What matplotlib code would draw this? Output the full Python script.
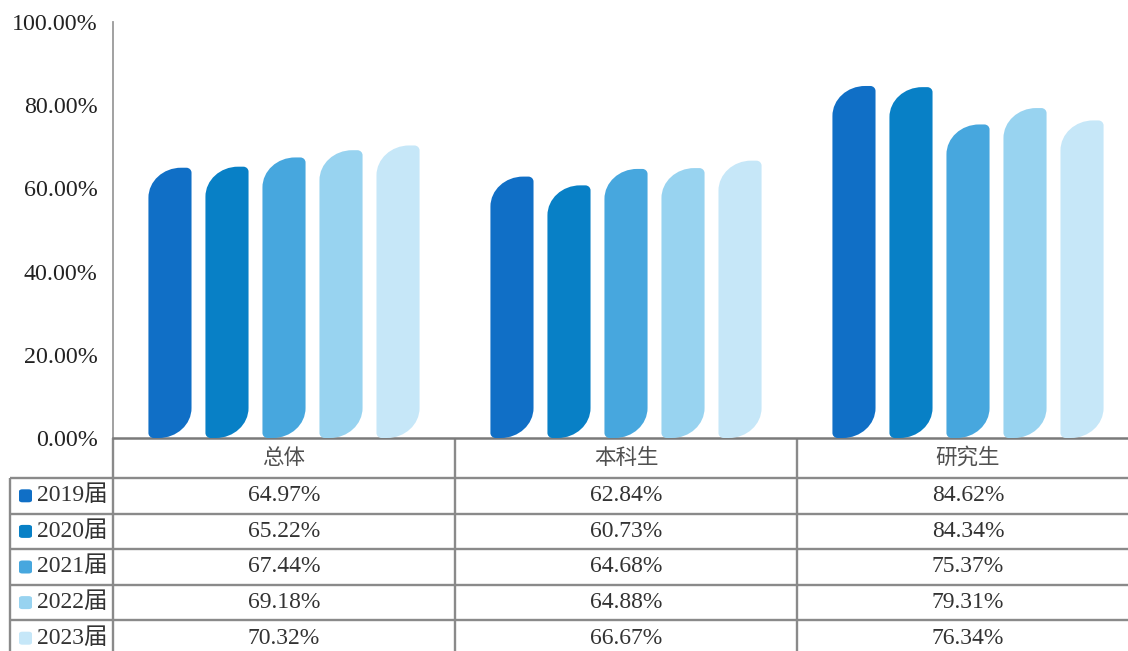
import matplotlib
matplotlib.use("Agg")
import matplotlib.pyplot as plt
from matplotlib.path import Path
from matplotlib.patches import PathPatch, FancyBboxPatch
from matplotlib.transforms import blended_transform_factory

# ---------------- data ----------------
categories = ["总体", "本科生", "研究生"]
series_labels = ["2019届", "2020届", "2021届", "2022届", "2023届"]
v2019 = [64.97, 62.84, 84.62]
v2020 = [65.22, 60.73, 84.34]
v2021 = [67.44, 64.68, 75.37]
v2022 = [69.18, 64.88, 79.31]
v2023 = [70.32, 66.67, 76.34]
series_values = [v2019, v2020, v2021, v2022, v2023]
colors = ["#106FC6", "#0880C6", "#47A7DE", "#98D3F0", "#C6E7F8"]
yticks = [0, 20, 40, 60, 80, 100]

# ---------------- layout ----------------
W, H = 1128, 651
fig = plt.figure(figsize=(W / 100, H / 100), dpi=100)
ax = fig.add_axes([113 / W, (H - 438) / H, 1026 / W, 416 / H])
ax.set_xlim(0, 3)
ax.set_ylim(0, 100)

serif = ["Liberation Serif", "Noto Sans CJK SC"]
cjk = ["Noto Sans CJK SC", "DejaVu Sans"]

for s in ["top", "right"]:
    ax.spines[s].set_visible(False)
ax.spines["left"].set_color("#9a9a9a")
ax.spines["left"].set_linewidth(1.3)
ax.spines["bottom"].set_color("#7a7a7a")
ax.spines["bottom"].set_linewidth(1.8)
ax.set_xticks([])
ax.set_yticks(yticks)
ax.set_yticklabels([f"{t:.2f}%" for t in yticks], fontfamily=serif,
                   fontsize=17.3, color="#222222")
ax.tick_params(axis="y", length=0, pad=11)

# ---------------- leaf shaped bars ----------------
K = 0.5523
bar_w = 0.126
step = 0.1667
px_per_unit_y = 416 / 100.0


def leaf_path(x0, x1, h):
    w = x1 - x0
    rbx, rby = 0.76 * w, min(30 / px_per_unit_y, h * 0.3)
    rsx, rsy = 0.12 * w, 5 / px_per_unit_y
    verts = [
        (x0 + rsx, 0),
        (x1 - rbx, 0),
        (x1 - rbx + K * rbx, 0), (x1, rby - K * rby), (x1, rby),
        (x1, h - rsy),
        (x1, h - rsy + K * rsy), (x1 - rsx + K * rsx, h), (x1 - rsx, h),
        (x0 + rbx, h),
        (x0 + rbx - K * rbx, h), (x0, h - rby + K * rby), (x0, h - rby),
        (x0, rsy),
        (x0, rsy - K * rsy), (x0 + rsx - K * rsx, 0), (x0 + rsx, 0),
        (x0 + rsx, 0),
    ]
    codes = [Path.MOVETO, Path.LINETO,
             Path.CURVE4, Path.CURVE4, Path.CURVE4,
             Path.LINETO,
             Path.CURVE4, Path.CURVE4, Path.CURVE4,
             Path.LINETO,
             Path.CURVE4, Path.CURVE4, Path.CURVE4,
             Path.LINETO,
             Path.CURVE4, Path.CURVE4, Path.CURVE4,
             Path.CLOSEPOLY]
    return Path(verts, codes)


for i, (vals, col) in enumerate(zip(series_values, colors)):
    for g, v in enumerate(vals):
        xc = g + 0.5 + (i - 2) * step
        p = leaf_path(xc - bar_w / 2, xc + bar_w / 2, v)
        ax.add_patch(PathPatch(p, facecolor=col, edgecolor="none", zorder=3))

# ---------------- data table ----------------
tr = blended_transform_factory(ax.transData, fig.transFigure)
ff = fig.transFigure
line_col = "#8a8a8a"
lw = 1.7


def fy(py):
    return 1 - py / H


row_edges = [478, 513.6, 549.2, 584.8, 620.4, 656]
header_center = 458

# horizontal lines
for py in row_edges[:-1]:
    ax.plot([10 / W, 1], [fy(py), fy(py)], transform=ff, color=line_col,
            lw=lw, clip_on=False, solid_capstyle="butt")
# vertical lines
for xg in [0, 1, 2]:
    ax.plot([xg, xg], [fy(438), 0], transform=tr, color=line_col, lw=lw,
            clip_on=False, solid_capstyle="butt")
ax.plot([10 / W, 10 / W], [fy(478), 0], transform=ff, color=line_col,
        lw=lw, clip_on=False, solid_capstyle="butt")

# header
for g, cat in enumerate(categories):
    ax.text(g + 0.5, fy(header_center), cat, transform=tr, ha="center",
            va="center", fontfamily=cjk, fontsize=15.5, color="#505050")

# rows
for i, (lab, vals, col) in enumerate(zip(series_labels, series_values, colors)):
    yc = (row_edges[i] + row_edges[i + 1]) / 2
    fig.add_artist(FancyBboxPatch((19 / W, fy(yc + 6.5)), 13 / W, 13 / H,
                                  boxstyle="round,pad=0,rounding_size=0.003",
                                  transform=ff, facecolor=col,
                                  edgecolor="none"))
    fig.text(37 / W, fy(yc), lab, ha="left", va="center",
             fontfamily=serif, fontsize=17, color="#333333")
    for g, v in enumerate(vals):
        ax.text(g + 0.5, fy(yc), f"{v:.2f}%", transform=tr, ha="center",
                va="center", fontfamily=serif, fontsize=17, color="#333333")

fig.savefig("out.png", dpi=100)
